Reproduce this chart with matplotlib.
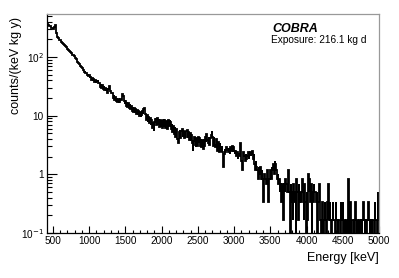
import numpy as np
import matplotlib
matplotlib.use("Agg")
import matplotlib.pyplot as plt
from matplotlib.ticker import MultipleLocator, FixedLocator, LogLocator, NullFormatter

plt.rcParams['font.family'] = ['Liberation Sans', 'DejaVu Sans']

# ---- data: counts per 10 keV bin, starting at 420 keV ----
bin_start = 420
bin_width = 10          # keV
exposure_kg_d = 216.1   # kg d
counts = [
    2135, 2080, 2070, 1995, 1970, 1915, 1880, 1820, 1795, 1790,
    1930, 2045, 1960, 1520, 1280, 1235, 1205, 1160, 1130, 1085,
    1065, 1018, 998, 952, 938, 893, 880, 838, 825, 785,
    778, 738, 730, 690, 684, 646, 640, 605, 590, 560,
    538, 505, 495, 462, 455, 424, 418, 398, 384, 360,
    355, 332, 338, 315, 318, 296, 305, 284, 290, 262,
    272, 242, 258, 228, 246, 218, 238, 210, 226, 230,
    244, 212, 214, 184, 203, 176, 196, 170, 186, 162,
    176, 154, 168, 146, 166, 178, 188, 156, 142, 146,
    144, 120, 132, 110, 124, 104, 118, 100, 112, 98,
    100, 114, 108, 134, 140, 128, 104, 94, 104, 88,
    102, 84, 97, 80, 94, 76, 87, 72, 83, 68,
    79, 66, 77, 63, 74, 60, 72, 58, 69, 56,
    60, 72, 63, 78, 80, 62, 62, 49, 60, 46,
    57, 44, 54, 41, 49, 36, 44, 33, 47, 51,
    53, 41, 55, 43, 51, 38, 50, 40, 49, 37,
    49, 38, 50, 37, 48, 40, 35, 50, 39, 49,
    46, 35, 43, 31, 40, 29, 38, 26, 35, 28,
    24, 20, 31, 34, 25, 32, 35, 26, 33, 25,
    33, 26, 32, 34, 25, 31, 23, 30, 22, 28,
    20, 15, 22, 26, 19, 17, 25, 18, 26, 20,
    25, 18, 24, 17, 23, 16, 24, 18, 26, 21,
    29, 23, 20, 26, 19, 25, 28, 32, 26, 18,
    26, 19, 17, 24, 18, 15, 21, 14, 20, 15,
    15, 18, 14, 8, 13, 16, 14, 17, 15, 16,
    14, 16, 13, 17, 15, 18, 14, 17, 15, 13,
    15, 12, 14, 11, 13, 12, 20, 16, 10, 7,
    11, 14, 12, 10, 13, 11, 12, 14, 11, 13,
    14, 12, 13, 15, 11, 13, 9, 7, 10, 8,
    7, 5, 8, 6, 8, 5, 7, 5, 2, 4,
    6, 5, 4, 6, 7, 2, 5, 6, 7, 5,
    8, 7, 9, 6, 10, 9, 7, 5, 6, 4,
    5, 3, 4, 2, 4, 3, 1, 4, 3, 5,
    4, 3, 4, 7, 3, 0, 4, 2, 3, 1,
    4, 2, 3, 0, 5, 3, 1, 4, 2, 3,
    3, 2, 5, 3, 1, 4, 2, 0, 3, 1,
    6, 3, 5, 2, 4, 0, 3, 2, 4, 3,
    3, 2, 3, 0, 2, 4, 3, 1, 0, 1,
    2, 0, 1, 2, 1, 0, 2, 1, 4, 1,
    2, 1, 0, 1, 2, 1, 1, 0, 2, 1,
    1, 0, 1, 1, 0, 2, 1, 1, 2, 0,
    1, 0, 1, 1, 0, 5, 1, 0, 2, 1,
    0, 1, 1, 0, 1, 2, 0, 1, 1, 0,
    1, 1, 0, 1, 0, 1, 2, 1, 0, 1,
    0, 1, 1, 2, 1, 0, 1, 1, 0, 1,
    1, 0, 2, 1, 1, 0, 3, 1,
]

x_major_ticks = [500, 1000, 1500, 2000, 2500, 3000, 3500, 4000, 4500, 5000]
y_major_ticks = [0.1, 1, 10, 100]
y_tick_labels = ['10$^{-1}$', '1', '10', '10$^{2}$']

counts = np.array(counts, dtype=float)
edges = bin_start + bin_width * np.arange(len(counts) + 1)
exposure_kg_y = exposure_kg_d / 365.25
rate = counts / (bin_width * exposure_kg_y)

fig = plt.figure(figsize=(3.99, 2.78), dpi=100)
ax = fig.add_axes([47/399, 45/278, (379-47)/399, (233-14)/278])

ax.stairs(rate, edges, baseline=None, color='black', lw=1.3)

ax.set_yscale('log')
ax.set_xlim(420, 5000)
ax.set_ylim(0.1, 540)

ax.xaxis.set_major_locator(FixedLocator(x_major_ticks))
ax.xaxis.set_minor_locator(MultipleLocator(100))
ax.set_xticklabels([str(t) for t in x_major_ticks])
ax.yaxis.set_major_locator(FixedLocator(y_major_ticks))
ax.set_yticklabels(y_tick_labels)
ax.yaxis.set_minor_locator(LogLocator(base=10, subs=np.arange(2, 10)))
ax.yaxis.set_minor_formatter(NullFormatter())

ax.tick_params(axis='both', which='both', direction='in', labelsize=7.2, colors='black')
ax.tick_params(axis='x', which='major', length=5, width=0.8, pad=2.5)
ax.tick_params(axis='x', which='minor', length=2.5, width=0.8)
ax.tick_params(axis='y', which='major', length=7, width=0.8, pad=2.5)
ax.tick_params(axis='y', which='minor', length=3.5, width=0.8)

for s in ['top', 'right']:
    ax.spines[s].set_color('#999999')
    ax.spines[s].set_linewidth(0.9)
for s in ['left', 'bottom']:
    ax.spines[s].set_color('black')
    ax.spines[s].set_linewidth(0.9)

fig.text(16/399, 1 - 17/278, 'counts/(keV kg y)', rotation=90, ha='center', va='top', fontsize=9)
fig.text(379/399, 1 - 258/278, 'Energy [keV]', ha='right', va='center', fontsize=9)
fig.text(272/399, 1 - 29/278, 'COBRA', ha='left', va='center', fontsize=9,
         fontweight='bold', fontstyle='italic')
fig.text(271/399, 1 - 40/278, 'Exposure: 216.1 kg d', ha='left', va='center', fontsize=7.3)

fig.savefig('out.png', dpi=100)
